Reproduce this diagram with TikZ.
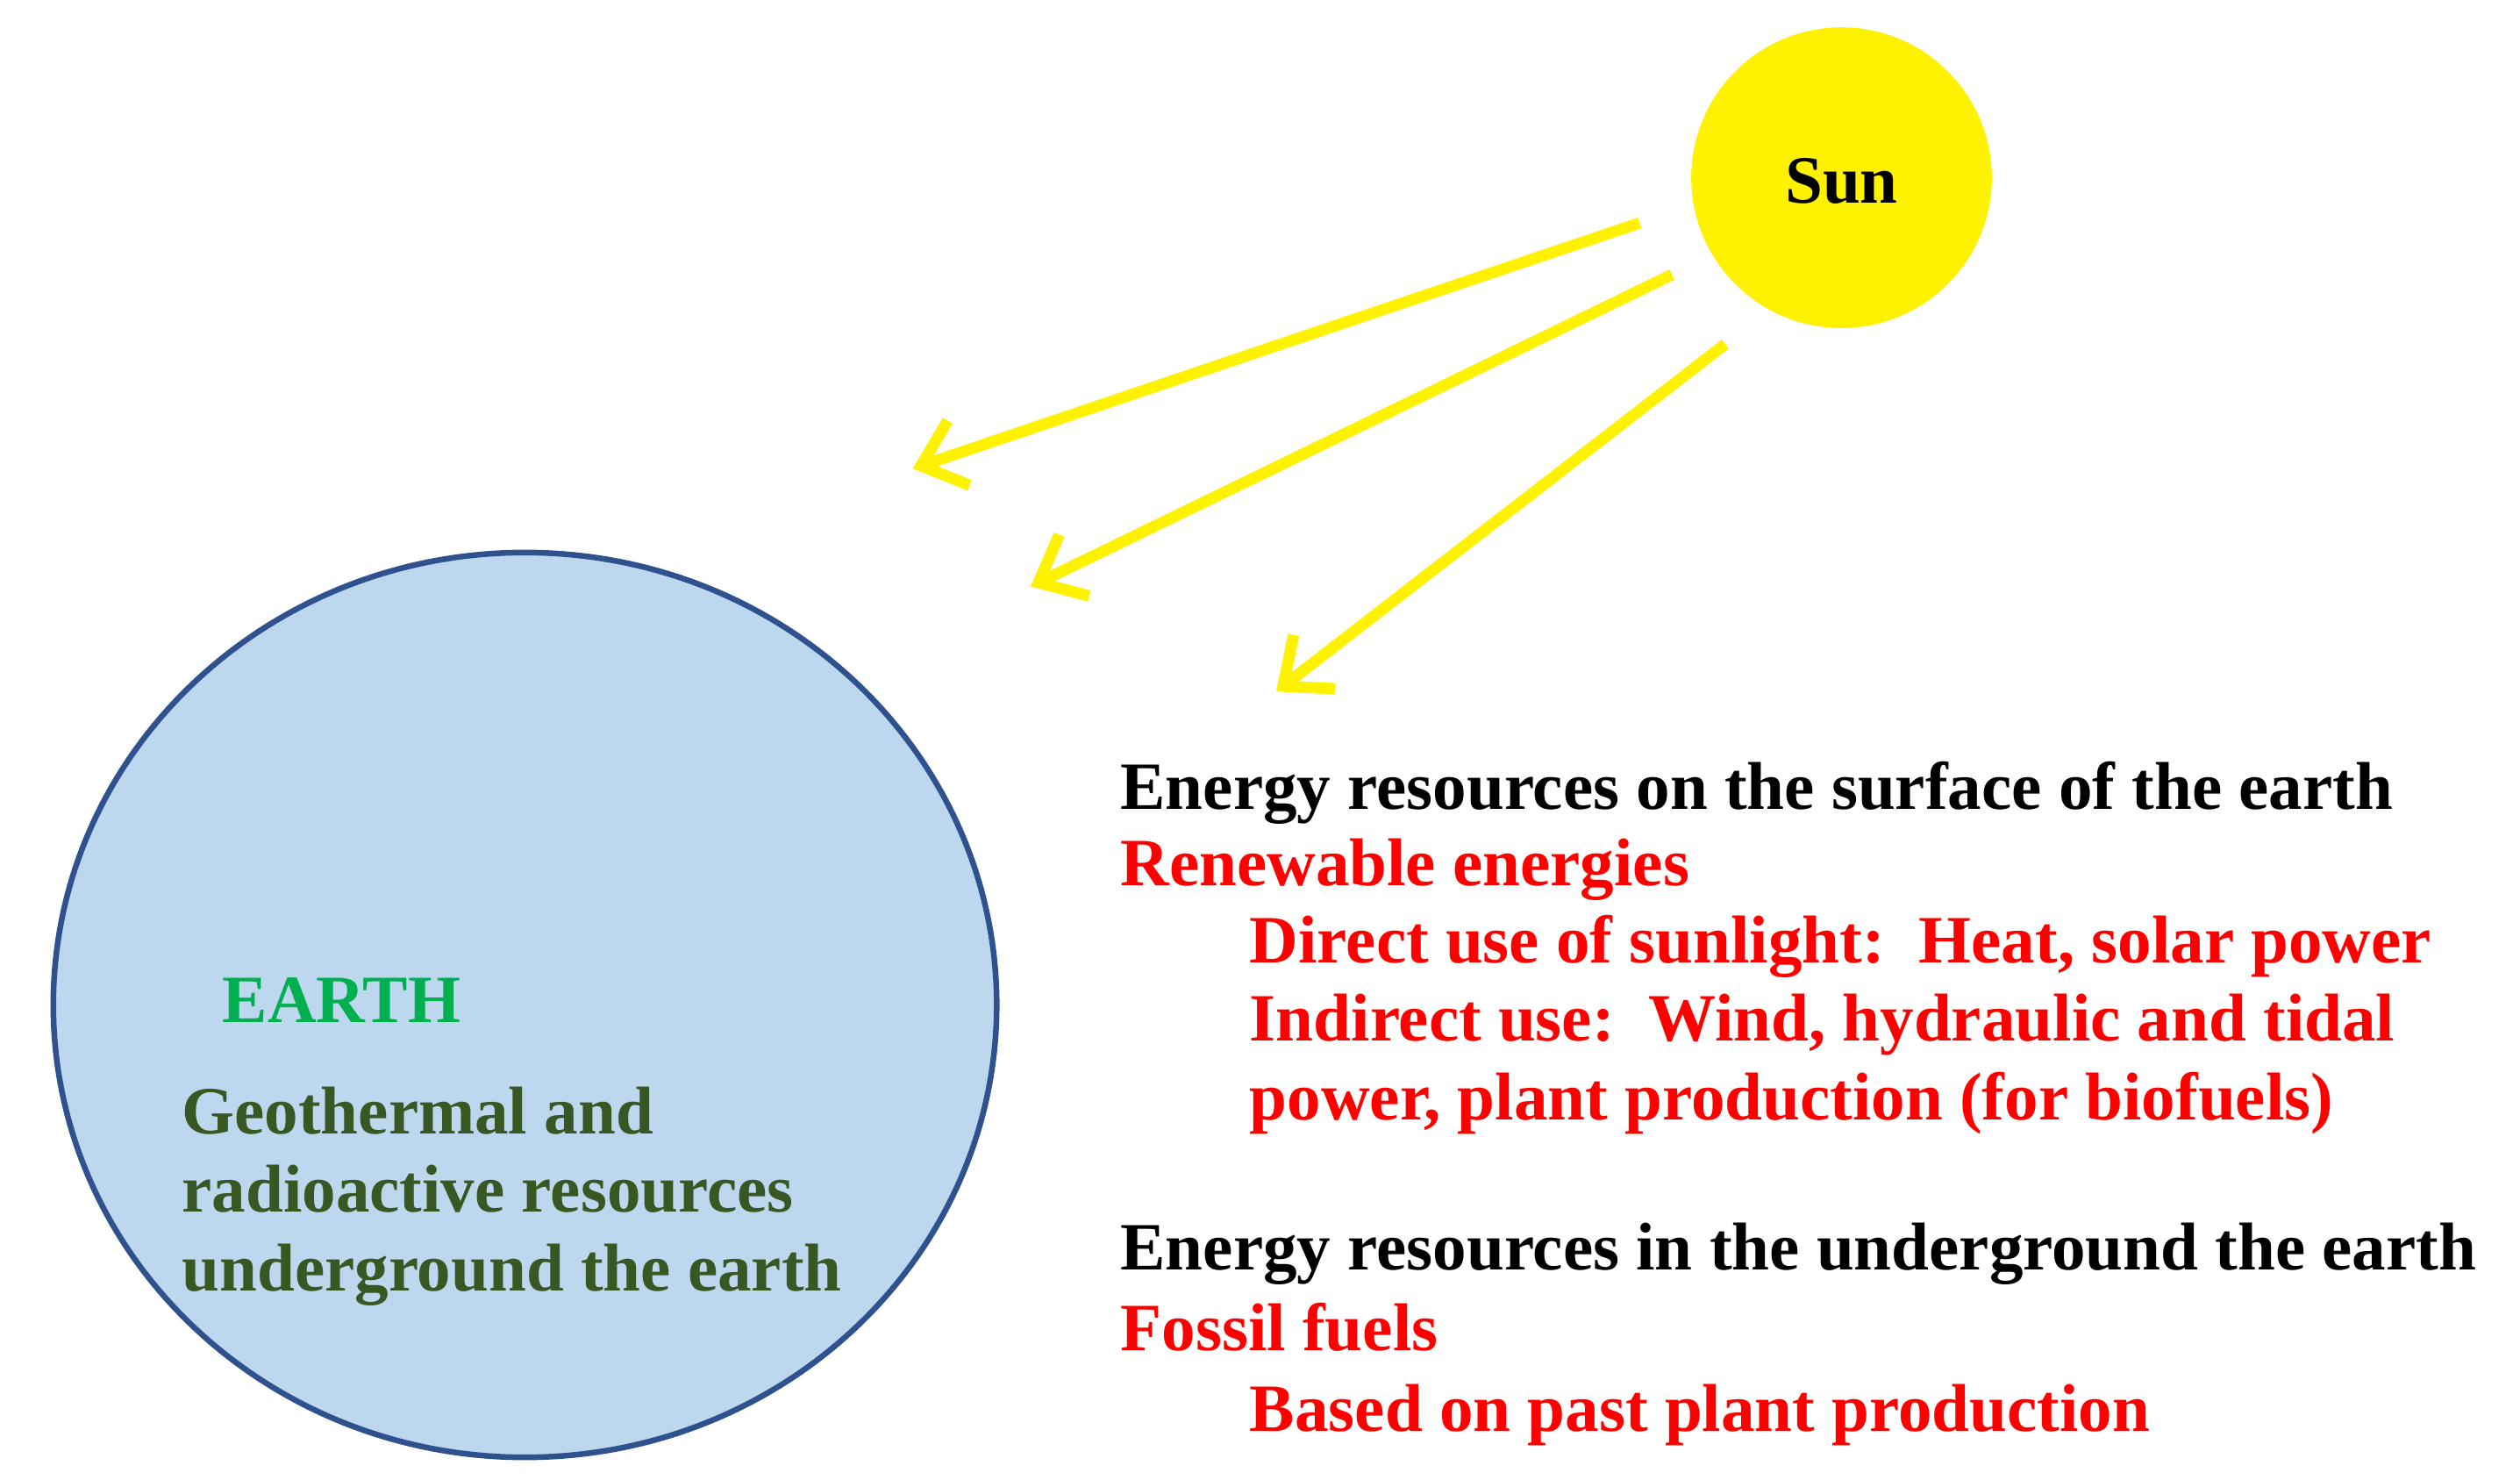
\documentclass[tikz,border=0pt]{standalone}
\usepackage{fontspec}
\setmainfont{Liberation Serif}
\usetikzlibrary{arrows.meta}
\begin{document}
\begin{tikzpicture}[x=0.01cm,y=-0.01cm,
  txt/.style={anchor=mid west,inner sep=0pt,font=\bfseries\fontsize{11.9}{14}\selectfont},
  ray/.style={yellow,line width=2pt,-{Straight Barb[length=7pt,width=12pt]}}]
\useasboundingbox (0,0) rectangle (1560,916);
\definecolor{earthfill}{RGB}{189,215,238}
\definecolor{earthline}{RGB}{47,82,143}
\definecolor{egreen}{RGB}{0,176,80}
\definecolor{dgreen}{RGB}{56,87,35}
\node (sun) [circle,fill=yellow,inner sep=0pt,minimum size=1.86cm] at (1140,110) {};
\node[txt,anchor=center] (sunl) at (1140,112) {Sun};
\draw[earthline,fill=earthfill,line width=1pt] (325,622) ellipse [x radius=292,y radius=280];
\node[txt,egreen] (earth) at (137,625) {EARTH};
\node[txt,dgreen,align=left,anchor=north west,font=\bfseries\fontsize{11.9}{13.8}\selectfont] (geo) at (112,672) {Geothermal and\\radioactive resources\\underground the earth};
\coordinate (s1) at (1015,138); \coordinate (e1) at (565,290);
\coordinate (s2) at (1035,170); \coordinate (e2) at (638,363);
\coordinate (s3) at (1068,213); \coordinate (e3) at (790,428);
\draw[ray] (s1) -- (e1);
\draw[ray] (s2) -- (e2);
\draw[ray] (s3) -- (e3);
\node[txt] (t1) at (693,493) {Energy resources on the surface of the earth};
\node[txt,red] (t2) at (693,540) {Renewable energies};
\node[txt,red] (t3) at (773,588) {Direct use of sunlight:\ \ Heat, solar power};
\node[txt,red] (t4) at (773,636) {Indirect use:\ \ Wind, hydraulic and tidal};
\node[txt,red] (t5) at (773,685) {power, plant production (for biofuels)};
\node[txt] (t6) at (693,778) {Energy resources in the underground the earth};
\node[txt,red] (t7) at (693,828) {Fossil fuels};
\node[txt,red] (t8) at (773,878) {Based on past plant production};
\end{tikzpicture}
\end{document}
